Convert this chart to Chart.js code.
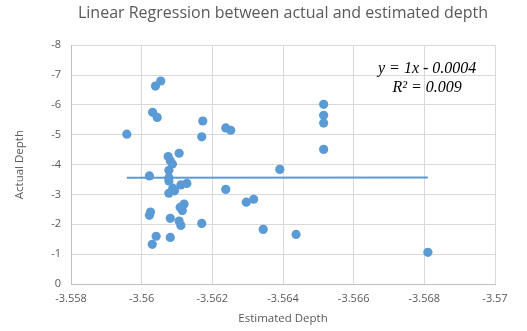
<!DOCTYPE html>
<html>
<head>
<meta charset="utf-8">
<script src="https://cdn.jsdelivr.net/npm/chart.js@4.4.1/dist/chart.umd.min.js"></script>
<style>
  html, body { margin: 0; padding: 0; background: #ffffff; }
  #wrap { width: 527px; height: 331px; }
</style>
</head>
<body>
<div id="wrap"><canvas id="scatterChart" width="527" height="331"></canvas></div>
<script>
// estimated depth (x) and actual depth (y) for each sample
const estimatedDepth = [
    -3.55958, -3.56039, -3.56054, -3.56031, -3.56044, -3.56173, -3.56170, -3.56238, -3.56252,
    -3.56515, -3.56515, -3.56515, -3.56515, -3.56391, -3.56238, -3.56296, -3.56317, -3.56344,
    -3.56437, -3.56810, -3.56170, -3.56022, -3.56025, -3.56022, -3.56041, -3.56030, -3.56081,
    -3.56081, -3.56106, -3.56075, -3.56081, -3.56087, -3.56077, -3.56077, -3.56077, -3.56111,
    -3.56128, -3.56088, -3.56093, -3.56077, -3.56120, -3.56109, -3.56115, -3.56106, -3.56111
];
const actualDepth = [
    -5.02, -6.63, -6.80, -5.75, -5.58, -5.46, -4.93, -5.23, -5.15,
    -6.02, -5.65, -5.39, -4.51, -3.84, -3.17, -2.74, -2.84, -1.83,
    -1.66, -1.06, -2.03, -3.62, -2.41, -2.30, -1.60, -1.33, -1.56,
    -2.20, -4.38, -4.27, -4.13, -4.02, -3.81, -3.56, -3.45, -3.32,
    -3.37, -3.21, -3.12, -3.04, -2.68, -2.57, -2.46, -2.11, -1.96
];

// linear trend line end points (y = 1x - 0.0004)
const trendX = [-3.55958, -3.56810];
const trendY = [-3.55998, -3.56850];

const xTicks = [-3.57, -3.568, -3.566, -3.564, -3.562, -3.56, -3.558];
const yTicks = [-8, -7, -6, -5, -4, -3, -2, -1, 0];

const equationLines = ["y = 1x - 0.0004", "R\u00B2 = 0.009"];

const blue = "#5b9bd5";
const gray = "#595959";
const gridGray = "#d9d9d9";

const points = estimatedDepth.map((x, i) => ({ x: x, y: actualDepth[i] }));
const trendPoints = trendX.map((x, i) => ({ x: x, y: trendY[i] }));

const equationPlugin = {
    id: "equation",
    afterDatasetsDraw(chart) {
        const ctx = chart.ctx;
        const xs = chart.scales.x;
        const ys = chart.scales.y;
        const cx = xs.getPixelForValue(-3.56808);
        ctx.save();
        ctx.fillStyle = "#000000";
        ctx.font = "italic 16px 'Liberation Serif'";
        ctx.textAlign = "center";
        ctx.textBaseline = "middle";
        ctx.fillText(equationLines[0], cx, ys.getPixelForValue(-7.2));
        ctx.fillText(equationLines[1], cx, ys.getPixelForValue(-6.57));
        ctx.restore();
    },
};

const ctxChart = document.querySelector("#scatterChart").getContext("2d");

const objScatterChart = new Chart(ctxChart, {
    type: "scatter",
    data: {
        datasets: [
            {
                label: "Depth",
                data: points,
                backgroundColor: blue,
                borderColor: blue,
                borderWidth: 0,
                pointRadius: 4.6,
                pointHoverRadius: 4.6,
            },
            {
                label: "Linear",
                type: "line",
                data: trendPoints,
                borderColor: blue,
                borderWidth: 2,
                pointRadius: 0,
                fill: false,
            },
        ],
    },
    options: {
        responsive: false,
        animation: false,
        layout: {
            padding: { left: 0, right: 32, top: 0, bottom: 0 },
        },
        plugins: {
            legend: { display: false },
            tooltip: { enabled: false },
            title: {
                display: true,
                fullSize: false,
                text: "Linear Regression between actual and estimated depth",
                color: gray,
                font: { family: "'Open Sans'", size: 16, weight: "normal" },
                padding: { top: 4, bottom: 22 },
            },
        },
        scales: {
            x: {
                type: "linear",
                reverse: true,
                min: -3.57,
                max: -3.558,
                afterBuildTicks: (scale) => {
                    scale.ticks = xTicks.map((v) => ({ value: v }));
                },
                afterFit: (scale) => {
                    scale.height = 47;
                },
                ticks: {
                    color: gray,
                    font: { family: "'Open Sans'", size: 11 },
                    padding: 8,
                    maxRotation: 0,
                    autoSkip: false,
                    callback: (v) => parseFloat(Number(v).toFixed(3)).toString(),
                },
                grid: { color: gridGray, drawTicks: false },
                border: { color: "#bfbfbf" },
                title: {
                    display: true,
                    text: "Estimated Depth",
                    color: gray,
                    font: { family: "'Open Sans'", size: 11.5 },
                    padding: { top: 0, bottom: 5 },
                },
            },
            y: {
                type: "linear",
                reverse: true,
                min: -8,
                max: 0,
                afterBuildTicks: (scale) => {
                    scale.ticks = yTicks.map((v) => ({ value: v }));
                },
                afterFit: (scale) => {
                    scale.width = 71;
                },
                ticks: {
                    color: gray,
                    font: { family: "'Open Sans'", size: 11 },
                    padding: 10,
                },
                grid: { color: gridGray, drawTicks: false },
                border: { color: "#bfbfbf" },
                title: {
                    display: true,
                    text: "Actual Depth",
                    color: gray,
                    font: { family: "'Open Sans'", size: 11.5 },
                    padding: { top: 13, bottom: 0 },
                },
            },
        },
    },
    plugins: [equationPlugin],
});
</script>
</body>
</html>
